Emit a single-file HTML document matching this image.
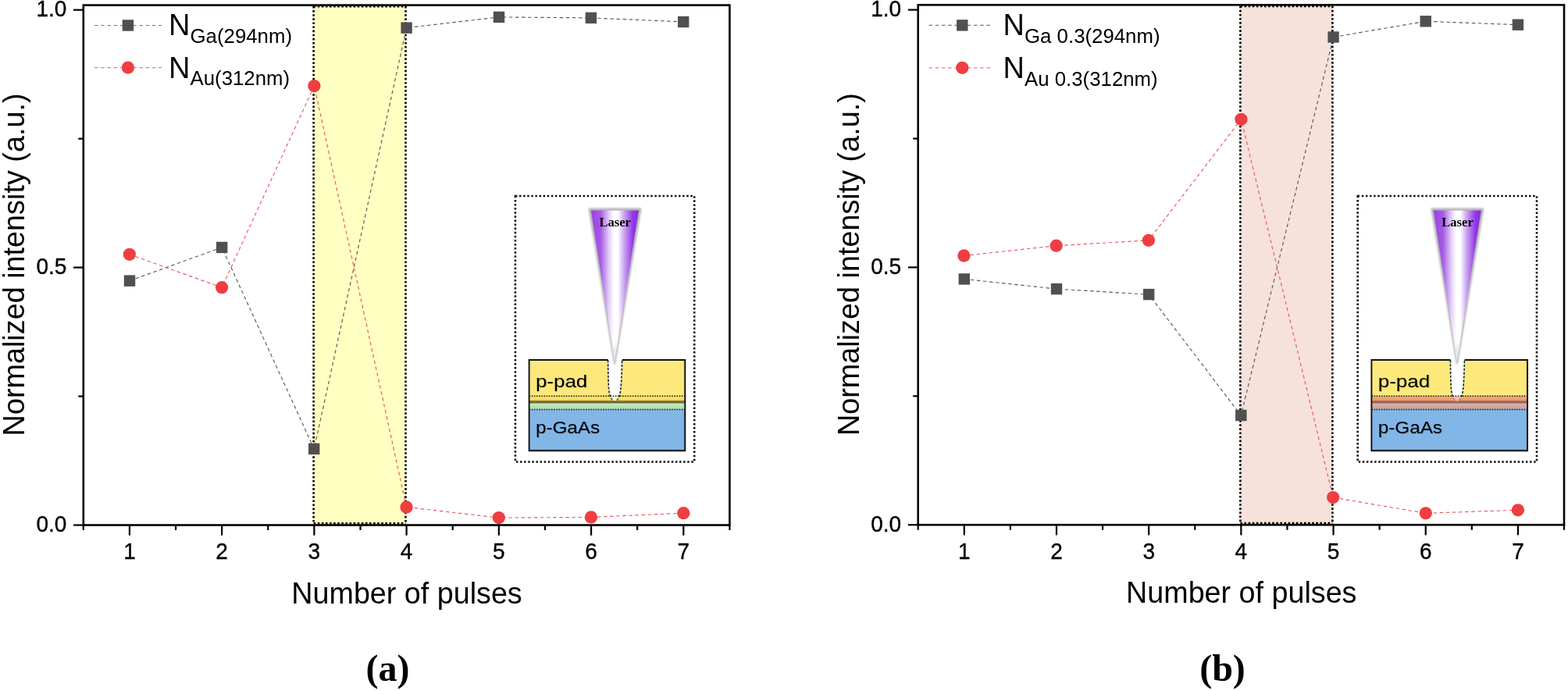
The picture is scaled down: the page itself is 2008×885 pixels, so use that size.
<!DOCTYPE html>
<html><head><meta charset="utf-8"><title>Normalized intensity vs number of pulses</title>
<style>
html,body{margin:0;padding:0;background:#fff;}
body{width:2008px;height:885px;overflow:hidden;}
svg{display:block;}
</style></head><body>
<svg width="2008" height="885" viewBox="0 0 2008 885" font-family="&quot;Liberation Sans&quot;, Arial, sans-serif" fill="#000">
<defs>
<linearGradient id="laserH" x1="756.9" y1="0" x2="818" y2="0" gradientUnits="userSpaceOnUse">
<stop offset="0" stop-color="#9a3fe6"/>
<stop offset="0.2" stop-color="#a65ae6"/>
<stop offset="0.38" stop-color="#e6d2f8"/>
<stop offset="0.48" stop-color="#ffffff"/>
<stop offset="0.56" stop-color="#ffffff"/>
<stop offset="0.7" stop-color="#c9a0f0"/>
<stop offset="0.88" stop-color="#9236e6"/>
<stop offset="1" stop-color="#8a2be2"/>
</linearGradient>
<linearGradient id="laserV" x1="0" y1="269.6" x2="0" y2="462.7" gradientUnits="userSpaceOnUse">
<stop offset="0" stop-color="#ffffff" stop-opacity="0"/>
<stop offset="0.6" stop-color="#ffffff" stop-opacity="0.0"/>
<stop offset="0.85" stop-color="#ffffff" stop-opacity="0.15"/>
<stop offset="1" stop-color="#ffffff" stop-opacity="0.45"/>
</linearGradient>
<linearGradient id="oliveGrad" x1="0" y1="0" x2="0" y2="1">
<stop offset="0" stop-color="#c8ac40"/>
<stop offset="0.55" stop-color="#6a5818"/>
<stop offset="1" stop-color="#7f8a50"/>
</linearGradient>
<linearGradient id="greenGrad" x1="0" y1="0" x2="0" y2="1">
<stop offset="0" stop-color="#c4eec4"/>
<stop offset="1" stop-color="#aed8ac"/>
</linearGradient>
<linearGradient id="orangeGrad" x1="0" y1="0" x2="0" y2="1">
<stop offset="0" stop-color="#f2ac74"/>
<stop offset="1" stop-color="#e89e68"/>
</linearGradient>
<linearGradient id="brownGrad" x1="0" y1="0" x2="0" y2="1">
<stop offset="0" stop-color="#d0845c"/>
<stop offset="0.55" stop-color="#8e5444"/>
<stop offset="1" stop-color="#b88c84"/>
</linearGradient>
<linearGradient id="pinkGrad" x1="0" y1="0" x2="0" y2="1">
<stop offset="0" stop-color="#d6b2ac"/>
<stop offset="1" stop-color="#c6a0a0"/>
</linearGradient>
<linearGradient id="shadeT_y" x1="0" y1="0" x2="0" y2="1">
<stop offset="0" stop-color="#fff3b0"/>
<stop offset="1" stop-color="#fde87c"/>
</linearGradient>
<linearGradient id="shadeR_y" x1="0" y1="0" x2="1" y2="0">
<stop offset="0" stop-color="#fde87c"/>
<stop offset="1" stop-color="#d8bc58"/>
</linearGradient>
<linearGradient id="shadeR_b" x1="0" y1="0" x2="1" y2="0">
<stop offset="0" stop-color="#82b6e7"/>
<stop offset="1" stop-color="#5f8fbf"/>
</linearGradient>
<linearGradient id="shadeB_b" x1="0" y1="0" x2="0" y2="1">
<stop offset="0" stop-color="#82b6e7"/>
<stop offset="1" stop-color="#5f8fbf"/>
</linearGradient>
<filter id="soft" x="-20%" y="-5%" width="140%" height="110%"><feGaussianBlur stdDeviation="0.9"/></filter>
<filter id="tshadow" x="-10%" y="-20%" width="130%" height="150%"><feDropShadow dx="0.7" dy="0.7" stdDeviation="0.5" flood-color="#000" flood-opacity="0.25"/></filter>
<linearGradient id="tipGrad" x1="0" y1="437" x2="0" y2="463" gradientUnits="userSpaceOnUse">
<stop offset="0" stop-color="#d0d0d0" stop-opacity="0"/>
<stop offset="0.6" stop-color="#c8c8c8" stop-opacity="0.6"/>
<stop offset="1" stop-color="#bdbdbd" stop-opacity="1"/>
</linearGradient>
<clipPath id="clipLow" clipPathUnits="userSpaceOnUse"><rect x="600" y="507.9" width="400" height="30"/></clipPath>
<clipPath id="clipHigh" clipPathUnits="userSpaceOnUse"><rect x="600" y="440" width="400" height="67.9"/></clipPath>
</defs>
<rect x="0" y="0" width="2008" height="885" fill="#fff"/>
<rect x="401.60" y="8.00" width="117.90" height="663.70" fill="#ffffc2"/>
<line x1="401.60" y1="8.00" x2="401.60" y2="670.30" stroke="#000" stroke-width="2.6" stroke-dasharray="2.6 2.5" fill="none"/>
<line x1="519.50" y1="8.00" x2="519.50" y2="670.30" stroke="#000" stroke-width="2.6" stroke-dasharray="2.6 2.5" fill="none"/>
<line x1="401.60" y1="8.20" x2="519.50" y2="8.20" stroke="#000" stroke-width="2.6" stroke-dasharray="2.6 2.5" fill="none"/>
<line x1="401.60" y1="670.30" x2="519.50" y2="670.30" stroke="#000" stroke-width="2.6" stroke-dasharray="2.6 2.5" fill="none"/>
<g transform="translate(0.00,0)">
<rect x="659.9" y="251" width="229.3" height="340.5" fill="none" stroke="#111" stroke-width="2.6" stroke-dasharray="2.5 2.6"/>
<rect x="677.6" y="461.0" width="199.7" height="116.2" fill="#82b6e7"/>
<rect x="874.7" y="524" width="2.6" height="53.2" fill="url(#shadeR_b)"/>
<rect x="677.6" y="574.6" width="199.7" height="2.6" fill="url(#shadeB_b)"/>
<rect x="677.6" y="461.0" width="199.7" height="46.5" fill="#fde87c"/>
<rect x="677.6" y="461.0" width="199.7" height="3.6" fill="url(#shadeT_y)"/>
<rect x="874.5" y="461.0" width="2.8" height="46.5" fill="url(#shadeR_y)"/>
<rect x="677.6" y="507.3" width="199.7" height="5.6" fill="#fbe264"/>
<rect x="677.6" y="512.6" width="199.7" height="4.2" fill="url(#oliveGrad)"/>
<rect x="677.6" y="516.7" width="199.7" height="7.8" fill="url(#greenGrad)"/>
<path d="M778.6,461 C778.8,480 779.1,492 779.6,498 Q780.3,505 782,509 Q784.5,513.6 787.2,514.2 Q789.9,513.6 792.4,509 Q794.1,505 794.9,498 C795.6,492 796.3,480 796.6,461 Z" fill="#ffffff"/>
<path d="M778.6,461 C778.8,480 779.1,492 779.6,498 Q780.3,505 782,509 Q784.5,513.6 787.2,514.2 Q789.9,513.6 792.4,509 Q794.1,505 794.9,498 C795.6,492 796.3,480 796.6,461 Z" fill="#fcf8cc" clip-path="url(#clipLow)"/>
<line x1="677.6" y1="507.2" x2="877.3" y2="507.2" stroke="#1a1a1a" stroke-width="1.6" stroke-dasharray="1.6 1.55"/>
<line x1="677.6" y1="524.5" x2="877.3" y2="524.5" stroke="#1a1a1a" stroke-width="1.6" stroke-dasharray="1.6 1.55"/>
<path d="M778.6,461 C778.8,480 779.1,492 779.6,498 Q780.3,505 782,509 Q784.5,513.6 787.2,514.2 Q789.9,513.6 792.4,509 Q794.1,505 794.9,498 C795.6,492 796.3,480 796.6,461" fill="none" stroke="#14243a" stroke-width="1.6" stroke-dasharray="3.2 1.7" clip-path="url(#clipHigh)"/>
<path d="M778.6,461 C778.8,480 779.1,492 779.6,498 Q780.3,505 782,509 Q784.5,513.6 787.2,514.2 Q789.9,513.6 792.4,509 Q794.1,505 794.9,498 C795.6,492 796.3,480 796.6,461" fill="none" stroke="#3e5c22" stroke-width="1.5" stroke-dasharray="3.2 1.7" clip-path="url(#clipLow)"/>
<path d="M778.6,461.0 L677.6,461.0 L677.6,577.2 L877.3,577.2 L877.3,461.0 L796.8,461.0" fill="none" stroke="#111" stroke-width="1.9"/>
<g filter="url(#tshadow)">
<text x="685.9" y="496.3" font-size="22.5" textLength="66.4" lengthAdjust="spacingAndGlyphs">p-pad</text>
<text x="685.9" y="554.7" font-size="22.5" textLength="82.3" lengthAdjust="spacingAndGlyphs">p-GaAs</text>
</g>
<path d="M754.4,267.4 L820.6,267.4 L787.1,466.0 Z" fill="#b0b0b0" stroke="#b8b8b8" stroke-width="1.8" stroke-linejoin="round" filter="url(#soft)"/>
<path d="M756.9,269.6 L818,269.6 L787,462.7 Z" fill="url(#laserH)"/>
<path d="M756.9,269.6 L818,269.6 L787,462.7 Z" fill="url(#laserV)"/>
<path d="M783.6,437 L790.6,437 L787.1,463.2 Z" fill="url(#tipGrad)" filter="url(#soft)"/>
<text x="787.7" y="290.3" font-family="&quot;Liberation Serif&quot;, &quot;Times New Roman&quot;, serif" font-weight="bold" font-size="16.6" text-anchor="middle">Laser</text>
</g>
<polyline points="166.00,359.60 284.20,316.90 402.20,574.90 520.60,35.65 639.00,21.90 756.90,22.90 875.20,28.00" fill="none" stroke="#5a5a5a" stroke-width="1.15" stroke-dasharray="4.5 3.6"/>
<polyline points="165.80,325.80 284.10,368.20 402.40,110.10 520.50,649.50 638.80,663.10 756.90,662.40 875.30,657.20" fill="none" stroke="#ea5860" stroke-width="1.15" stroke-dasharray="4.5 3.6"/>
<rect x="158.80" y="352.40" width="14.4" height="14.4" fill="#505050"/>
<rect x="277.00" y="309.70" width="14.4" height="14.4" fill="#505050"/>
<rect x="395.00" y="567.70" width="14.4" height="14.4" fill="#505050"/>
<rect x="513.40" y="28.45" width="14.4" height="14.4" fill="#505050"/>
<rect x="631.80" y="14.70" width="14.4" height="14.4" fill="#505050"/>
<rect x="749.70" y="15.70" width="14.4" height="14.4" fill="#505050"/>
<rect x="868.00" y="20.80" width="14.4" height="14.4" fill="#505050"/>
<circle cx="165.80" cy="325.80" r="8.15" fill="#ef3e42"/>
<circle cx="284.10" cy="368.20" r="8.15" fill="#ef3e42"/>
<circle cx="402.40" cy="110.10" r="8.15" fill="#ef3e42"/>
<circle cx="520.50" cy="649.50" r="8.15" fill="#ef3e42"/>
<circle cx="638.80" cy="663.10" r="8.15" fill="#ef3e42"/>
<circle cx="756.90" cy="662.40" r="8.15" fill="#ef3e42"/>
<circle cx="875.30" cy="657.20" r="8.15" fill="#ef3e42"/>
<rect x="106.80" y="6.60" width="827.60" height="665.90" fill="none" stroke="#000" stroke-width="2.6"/>
<line x1="94.00" y1="672.50" x2="106.80" y2="672.50" stroke="#000" stroke-width="2.2"/>
<text transform="translate(85.30,681.10) scale(1,1.035)" font-size="28" stroke="#000" stroke-width="0.35" text-anchor="end">0.0</text>
<line x1="94.00" y1="342.60" x2="106.80" y2="342.60" stroke="#000" stroke-width="2.2"/>
<text transform="translate(85.30,351.20) scale(1,1.035)" font-size="28" stroke="#000" stroke-width="0.35" text-anchor="end">0.5</text>
<line x1="94.00" y1="12.70" x2="106.80" y2="12.70" stroke="#000" stroke-width="2.2"/>
<text transform="translate(85.30,21.30) scale(1,1.035)" font-size="28" stroke="#000" stroke-width="0.35" text-anchor="end">1.0</text>
<line x1="100.30" y1="507.55" x2="106.80" y2="507.55" stroke="#000" stroke-width="2.2"/>
<line x1="100.30" y1="177.65" x2="106.80" y2="177.65" stroke="#000" stroke-width="2.2"/>
<line x1="165.91" y1="672.50" x2="165.91" y2="685.70" stroke="#000" stroke-width="2.2"/>
<text transform="translate(165.91,716.20) scale(1,1.035)" font-size="28" stroke="#000" stroke-width="0.35" text-anchor="middle">1</text>
<line x1="284.14" y1="672.50" x2="284.14" y2="685.70" stroke="#000" stroke-width="2.2"/>
<text transform="translate(284.14,716.20) scale(1,1.035)" font-size="28" stroke="#000" stroke-width="0.35" text-anchor="middle">2</text>
<line x1="402.37" y1="672.50" x2="402.37" y2="685.70" stroke="#000" stroke-width="2.2"/>
<text transform="translate(402.37,716.20) scale(1,1.035)" font-size="28" stroke="#000" stroke-width="0.35" text-anchor="middle">3</text>
<line x1="520.60" y1="672.50" x2="520.60" y2="685.70" stroke="#000" stroke-width="2.2"/>
<text transform="translate(520.60,716.20) scale(1,1.035)" font-size="28" stroke="#000" stroke-width="0.35" text-anchor="middle">4</text>
<line x1="638.83" y1="672.50" x2="638.83" y2="685.70" stroke="#000" stroke-width="2.2"/>
<text transform="translate(638.83,716.20) scale(1,1.035)" font-size="28" stroke="#000" stroke-width="0.35" text-anchor="middle">5</text>
<line x1="757.06" y1="672.50" x2="757.06" y2="685.70" stroke="#000" stroke-width="2.2"/>
<text transform="translate(757.06,716.20) scale(1,1.035)" font-size="28" stroke="#000" stroke-width="0.35" text-anchor="middle">6</text>
<line x1="875.29" y1="672.50" x2="875.29" y2="685.70" stroke="#000" stroke-width="2.2"/>
<text transform="translate(875.29,716.20) scale(1,1.035)" font-size="28" stroke="#000" stroke-width="0.35" text-anchor="middle">7</text>
<line x1="106.80" y1="672.50" x2="106.80" y2="679.00" stroke="#000" stroke-width="2.2"/>
<line x1="225.03" y1="672.50" x2="225.03" y2="679.00" stroke="#000" stroke-width="2.2"/>
<line x1="343.26" y1="672.50" x2="343.26" y2="679.00" stroke="#000" stroke-width="2.2"/>
<line x1="461.49" y1="672.50" x2="461.49" y2="679.00" stroke="#000" stroke-width="2.2"/>
<line x1="579.71" y1="672.50" x2="579.71" y2="679.00" stroke="#000" stroke-width="2.2"/>
<line x1="697.94" y1="672.50" x2="697.94" y2="679.00" stroke="#000" stroke-width="2.2"/>
<line x1="816.17" y1="672.50" x2="816.17" y2="679.00" stroke="#000" stroke-width="2.2"/>
<line x1="934.40" y1="672.50" x2="934.40" y2="679.00" stroke="#000" stroke-width="2.2"/>
<text transform="translate(521.00,772.70) scale(1,1.035)" font-size="37.7" text-anchor="middle">Number of pulses</text>
<text transform="translate(30.60,338.95) rotate(-90) scale(1,1.035)" x="0" y="0" font-size="37.8" text-anchor="middle">Normalized intensity (a.u.)</text>
<line x1="121" y1="32.5" x2="207" y2="32.5" stroke="#5a5a5a" stroke-width="1.2" stroke-opacity="0.8" stroke-dasharray="4.5 3.7"/>
<rect x="156.70" y="25.30" width="14.4" height="14.4" fill="#505050"/>
<line x1="121" y1="86.6" x2="207" y2="86.6" stroke="#ea5860" stroke-width="1.2" stroke-opacity="0.8" stroke-dasharray="4.5 3.7"/>
<circle cx="163.90" cy="86.60" r="8.15" fill="#ef3e42"/>
<text transform="translate(216.1,45.4) scale(1,1.035)" font-size="38">N<tspan font-size="25.8" dy="9.08">Ga(294nm)</tspan></text>
<text transform="translate(216.1,99.5) scale(1,1.035)" font-size="38">N<tspan font-size="25.8" dy="9.57">Au(312nm)</tspan></text>
<text x="496.50" y="872" font-family="&quot;Liberation Serif&quot;, &quot;Times New Roman&quot;, serif" font-weight="bold" font-size="48" text-anchor="middle">(a)</text>
<rect x="1588.40" y="7.70" width="118.00" height="663.70" fill="#f6e1db"/>
<line x1="1588.40" y1="7.70" x2="1588.40" y2="670.00" stroke="#000" stroke-width="2.6" stroke-dasharray="2.6 2.5" fill="none"/>
<line x1="1706.40" y1="7.70" x2="1706.40" y2="670.00" stroke="#000" stroke-width="2.6" stroke-dasharray="2.6 2.5" fill="none"/>
<line x1="1588.40" y1="7.90" x2="1706.40" y2="7.90" stroke="#000" stroke-width="2.6" stroke-dasharray="2.6 2.5" fill="none"/>
<line x1="1588.40" y1="670.00" x2="1706.40" y2="670.00" stroke="#000" stroke-width="2.6" stroke-dasharray="2.6 2.5" fill="none"/>
<g transform="translate(1078.80,0)">
<rect x="659.9" y="251" width="229.3" height="340.5" fill="none" stroke="#111" stroke-width="2.6" stroke-dasharray="2.5 2.6"/>
<rect x="677.6" y="461.0" width="199.7" height="116.2" fill="#82b6e7"/>
<rect x="874.7" y="524" width="2.6" height="53.2" fill="url(#shadeR_b)"/>
<rect x="677.6" y="574.6" width="199.7" height="2.6" fill="url(#shadeB_b)"/>
<rect x="677.6" y="461.0" width="199.7" height="46.5" fill="#fde87c"/>
<rect x="677.6" y="461.0" width="199.7" height="3.6" fill="url(#shadeT_y)"/>
<rect x="874.5" y="461.0" width="2.8" height="46.5" fill="url(#shadeR_y)"/>
<rect x="677.6" y="507.3" width="199.7" height="5.8" fill="url(#orangeGrad)"/>
<rect x="677.6" y="512.9" width="199.7" height="4.0" fill="url(#brownGrad)"/>
<rect x="677.6" y="516.8" width="199.7" height="7.7" fill="url(#pinkGrad)"/>
<path d="M778.6,461 C778.8,480 779.1,492 779.6,498 Q780.3,505 782,509 Q784.5,513.6 787.2,514.2 Q789.9,513.6 792.4,509 Q794.1,505 794.9,498 C795.6,492 796.3,480 796.6,461 Z" fill="#ffffff"/>
<path d="M778.6,461 C778.8,480 779.1,492 779.6,498 Q780.3,505 782,509 Q784.5,513.6 787.2,514.2 Q789.9,513.6 792.4,509 Q794.1,505 794.9,498 C795.6,492 796.3,480 796.6,461 Z" fill="#f2b9a9" clip-path="url(#clipLow)"/>
<line x1="677.6" y1="507.2" x2="877.3" y2="507.2" stroke="#1a1a1a" stroke-width="1.6" stroke-dasharray="1.6 1.55"/>
<line x1="677.6" y1="524.5" x2="877.3" y2="524.5" stroke="#1a1a1a" stroke-width="1.6" stroke-dasharray="1.6 1.55"/>
<path d="M778.6,461 C778.8,480 779.1,492 779.6,498 Q780.3,505 782,509 Q784.5,513.6 787.2,514.2 Q789.9,513.6 792.4,509 Q794.1,505 794.9,498 C795.6,492 796.3,480 796.6,461" fill="none" stroke="#14243a" stroke-width="1.6" stroke-dasharray="3.2 1.7" clip-path="url(#clipHigh)"/>
<path d="M778.6,461 C778.8,480 779.1,492 779.6,498 Q780.3,505 782,509 Q784.5,513.6 787.2,514.2 Q789.9,513.6 792.4,509 Q794.1,505 794.9,498 C795.6,492 796.3,480 796.6,461" fill="none" stroke="#b67a6a" stroke-width="1.5" stroke-dasharray="3.2 1.7" clip-path="url(#clipLow)"/>
<path d="M778.6,461.0 L677.6,461.0 L677.6,577.2 L877.3,577.2 L877.3,461.0 L796.8,461.0" fill="none" stroke="#111" stroke-width="1.9"/>
<g filter="url(#tshadow)">
<text x="685.9" y="496.3" font-size="22.5" textLength="66.4" lengthAdjust="spacingAndGlyphs">p-pad</text>
<text x="685.9" y="554.7" font-size="22.5" textLength="82.3" lengthAdjust="spacingAndGlyphs">p-GaAs</text>
</g>
<path d="M754.4,267.4 L820.6,267.4 L787.1,466.0 Z" fill="#b0b0b0" stroke="#b8b8b8" stroke-width="1.8" stroke-linejoin="round" filter="url(#soft)"/>
<path d="M756.9,269.6 L818,269.6 L787,462.7 Z" fill="url(#laserH)"/>
<path d="M756.9,269.6 L818,269.6 L787,462.7 Z" fill="url(#laserV)"/>
<path d="M783.6,437 L790.6,437 L787.1,463.2 Z" fill="url(#tipGrad)" filter="url(#soft)"/>
<text x="787.7" y="290.3" font-family="&quot;Liberation Serif&quot;, &quot;Times New Roman&quot;, serif" font-weight="bold" font-size="16.6" text-anchor="middle">Laser</text>
</g>
<polyline points="1234.80,357.40 1353.00,370.10 1471.20,377.10 1589.30,532.00 1707.60,47.50 1825.70,27.30 1943.90,31.70" fill="none" stroke="#5a5a5a" stroke-width="1.15" stroke-dasharray="4.5 3.6"/>
<polyline points="1234.40,327.50 1352.70,314.70 1470.90,307.80 1589.40,152.80 1707.20,637.10 1825.80,657.30 1943.90,653.30" fill="none" stroke="#ea5860" stroke-width="1.15" stroke-dasharray="4.5 3.6"/>
<rect x="1227.60" y="350.20" width="14.4" height="14.4" fill="#505050"/>
<rect x="1345.80" y="362.90" width="14.4" height="14.4" fill="#505050"/>
<rect x="1464.00" y="369.90" width="14.4" height="14.4" fill="#505050"/>
<rect x="1582.10" y="524.80" width="14.4" height="14.4" fill="#505050"/>
<rect x="1700.40" y="40.30" width="14.4" height="14.4" fill="#505050"/>
<rect x="1818.50" y="20.10" width="14.4" height="14.4" fill="#505050"/>
<rect x="1936.70" y="24.50" width="14.4" height="14.4" fill="#505050"/>
<circle cx="1234.40" cy="327.50" r="8.15" fill="#ef3e42"/>
<circle cx="1352.70" cy="314.70" r="8.15" fill="#ef3e42"/>
<circle cx="1470.90" cy="307.80" r="8.15" fill="#ef3e42"/>
<circle cx="1589.40" cy="152.80" r="8.15" fill="#ef3e42"/>
<circle cx="1707.20" cy="637.10" r="8.15" fill="#ef3e42"/>
<circle cx="1825.80" cy="657.30" r="8.15" fill="#ef3e42"/>
<circle cx="1943.90" cy="653.30" r="8.15" fill="#ef3e42"/>
<rect x="1175.70" y="6.30" width="827.30" height="665.90" fill="none" stroke="#000" stroke-width="2.6"/>
<line x1="1162.90" y1="672.20" x2="1175.70" y2="672.20" stroke="#000" stroke-width="2.2"/>
<text transform="translate(1154.20,680.80) scale(1,1.035)" font-size="28" stroke="#000" stroke-width="0.35" text-anchor="end">0.0</text>
<line x1="1162.90" y1="342.40" x2="1175.70" y2="342.40" stroke="#000" stroke-width="2.2"/>
<text transform="translate(1154.20,351.00) scale(1,1.035)" font-size="28" stroke="#000" stroke-width="0.35" text-anchor="end">0.5</text>
<line x1="1162.90" y1="12.60" x2="1175.70" y2="12.60" stroke="#000" stroke-width="2.2"/>
<text transform="translate(1154.20,21.20) scale(1,1.035)" font-size="28" stroke="#000" stroke-width="0.35" text-anchor="end">1.0</text>
<line x1="1169.20" y1="507.30" x2="1175.70" y2="507.30" stroke="#000" stroke-width="2.2"/>
<line x1="1169.20" y1="177.50" x2="1175.70" y2="177.50" stroke="#000" stroke-width="2.2"/>
<line x1="1234.79" y1="672.20" x2="1234.79" y2="685.40" stroke="#000" stroke-width="2.2"/>
<text transform="translate(1234.79,715.90) scale(1,1.035)" font-size="28" stroke="#000" stroke-width="0.35" text-anchor="middle">1</text>
<line x1="1352.98" y1="672.20" x2="1352.98" y2="685.40" stroke="#000" stroke-width="2.2"/>
<text transform="translate(1352.98,715.90) scale(1,1.035)" font-size="28" stroke="#000" stroke-width="0.35" text-anchor="middle">2</text>
<line x1="1471.16" y1="672.20" x2="1471.16" y2="685.40" stroke="#000" stroke-width="2.2"/>
<text transform="translate(1471.16,715.90) scale(1,1.035)" font-size="28" stroke="#000" stroke-width="0.35" text-anchor="middle">3</text>
<line x1="1589.35" y1="672.20" x2="1589.35" y2="685.40" stroke="#000" stroke-width="2.2"/>
<text transform="translate(1589.35,715.90) scale(1,1.035)" font-size="28" stroke="#000" stroke-width="0.35" text-anchor="middle">4</text>
<line x1="1707.54" y1="672.20" x2="1707.54" y2="685.40" stroke="#000" stroke-width="2.2"/>
<text transform="translate(1707.54,715.90) scale(1,1.035)" font-size="28" stroke="#000" stroke-width="0.35" text-anchor="middle">5</text>
<line x1="1825.72" y1="672.20" x2="1825.72" y2="685.40" stroke="#000" stroke-width="2.2"/>
<text transform="translate(1825.72,715.90) scale(1,1.035)" font-size="28" stroke="#000" stroke-width="0.35" text-anchor="middle">6</text>
<line x1="1943.91" y1="672.20" x2="1943.91" y2="685.40" stroke="#000" stroke-width="2.2"/>
<text transform="translate(1943.91,715.90) scale(1,1.035)" font-size="28" stroke="#000" stroke-width="0.35" text-anchor="middle">7</text>
<line x1="1175.70" y1="672.20" x2="1175.70" y2="678.70" stroke="#000" stroke-width="2.2"/>
<line x1="1293.89" y1="672.20" x2="1293.89" y2="678.70" stroke="#000" stroke-width="2.2"/>
<line x1="1412.07" y1="672.20" x2="1412.07" y2="678.70" stroke="#000" stroke-width="2.2"/>
<line x1="1530.26" y1="672.20" x2="1530.26" y2="678.70" stroke="#000" stroke-width="2.2"/>
<line x1="1648.44" y1="672.20" x2="1648.44" y2="678.70" stroke="#000" stroke-width="2.2"/>
<line x1="1766.63" y1="672.20" x2="1766.63" y2="678.70" stroke="#000" stroke-width="2.2"/>
<line x1="1884.81" y1="672.20" x2="1884.81" y2="678.70" stroke="#000" stroke-width="2.2"/>
<line x1="2003.00" y1="672.20" x2="2003.00" y2="678.70" stroke="#000" stroke-width="2.2"/>
<text transform="translate(1589.75,772.40) scale(1,1.035)" font-size="37.7" text-anchor="middle">Number of pulses</text>
<text transform="translate(1099.50,338.65) rotate(-90) scale(1,1.035)" x="0" y="0" font-size="37.8" text-anchor="middle">Normalized intensity (a.u.)</text>
<line x1="1189.6" y1="32.4" x2="1271" y2="32.4" stroke="#5a5a5a" stroke-width="1.2" stroke-opacity="0.8" stroke-dasharray="4.5 3.7"/>
<rect x="1225.10" y="25.20" width="14.4" height="14.4" fill="#505050"/>
<line x1="1189.6" y1="86.8" x2="1271" y2="86.8" stroke="#ea5860" stroke-width="1.2" stroke-opacity="0.8" stroke-dasharray="4.5 3.7"/>
<circle cx="1232.30" cy="86.80" r="8.15" fill="#ef3e42"/>
<text transform="translate(1284.6,44.8) scale(1,1.035)" font-size="38">N<tspan font-size="25.8" dy="10.14">Ga 0.3(294nm)</tspan></text>
<text transform="translate(1284.6,99.5) scale(1,1.035)" font-size="38">N<tspan font-size="25.8" dy="9.76">Au 0.3(312nm)</tspan></text>
<text x="1565.50" y="872" font-family="&quot;Liberation Serif&quot;, &quot;Times New Roman&quot;, serif" font-weight="bold" font-size="48" text-anchor="middle">(b)</text>
</svg>
</body></html>
